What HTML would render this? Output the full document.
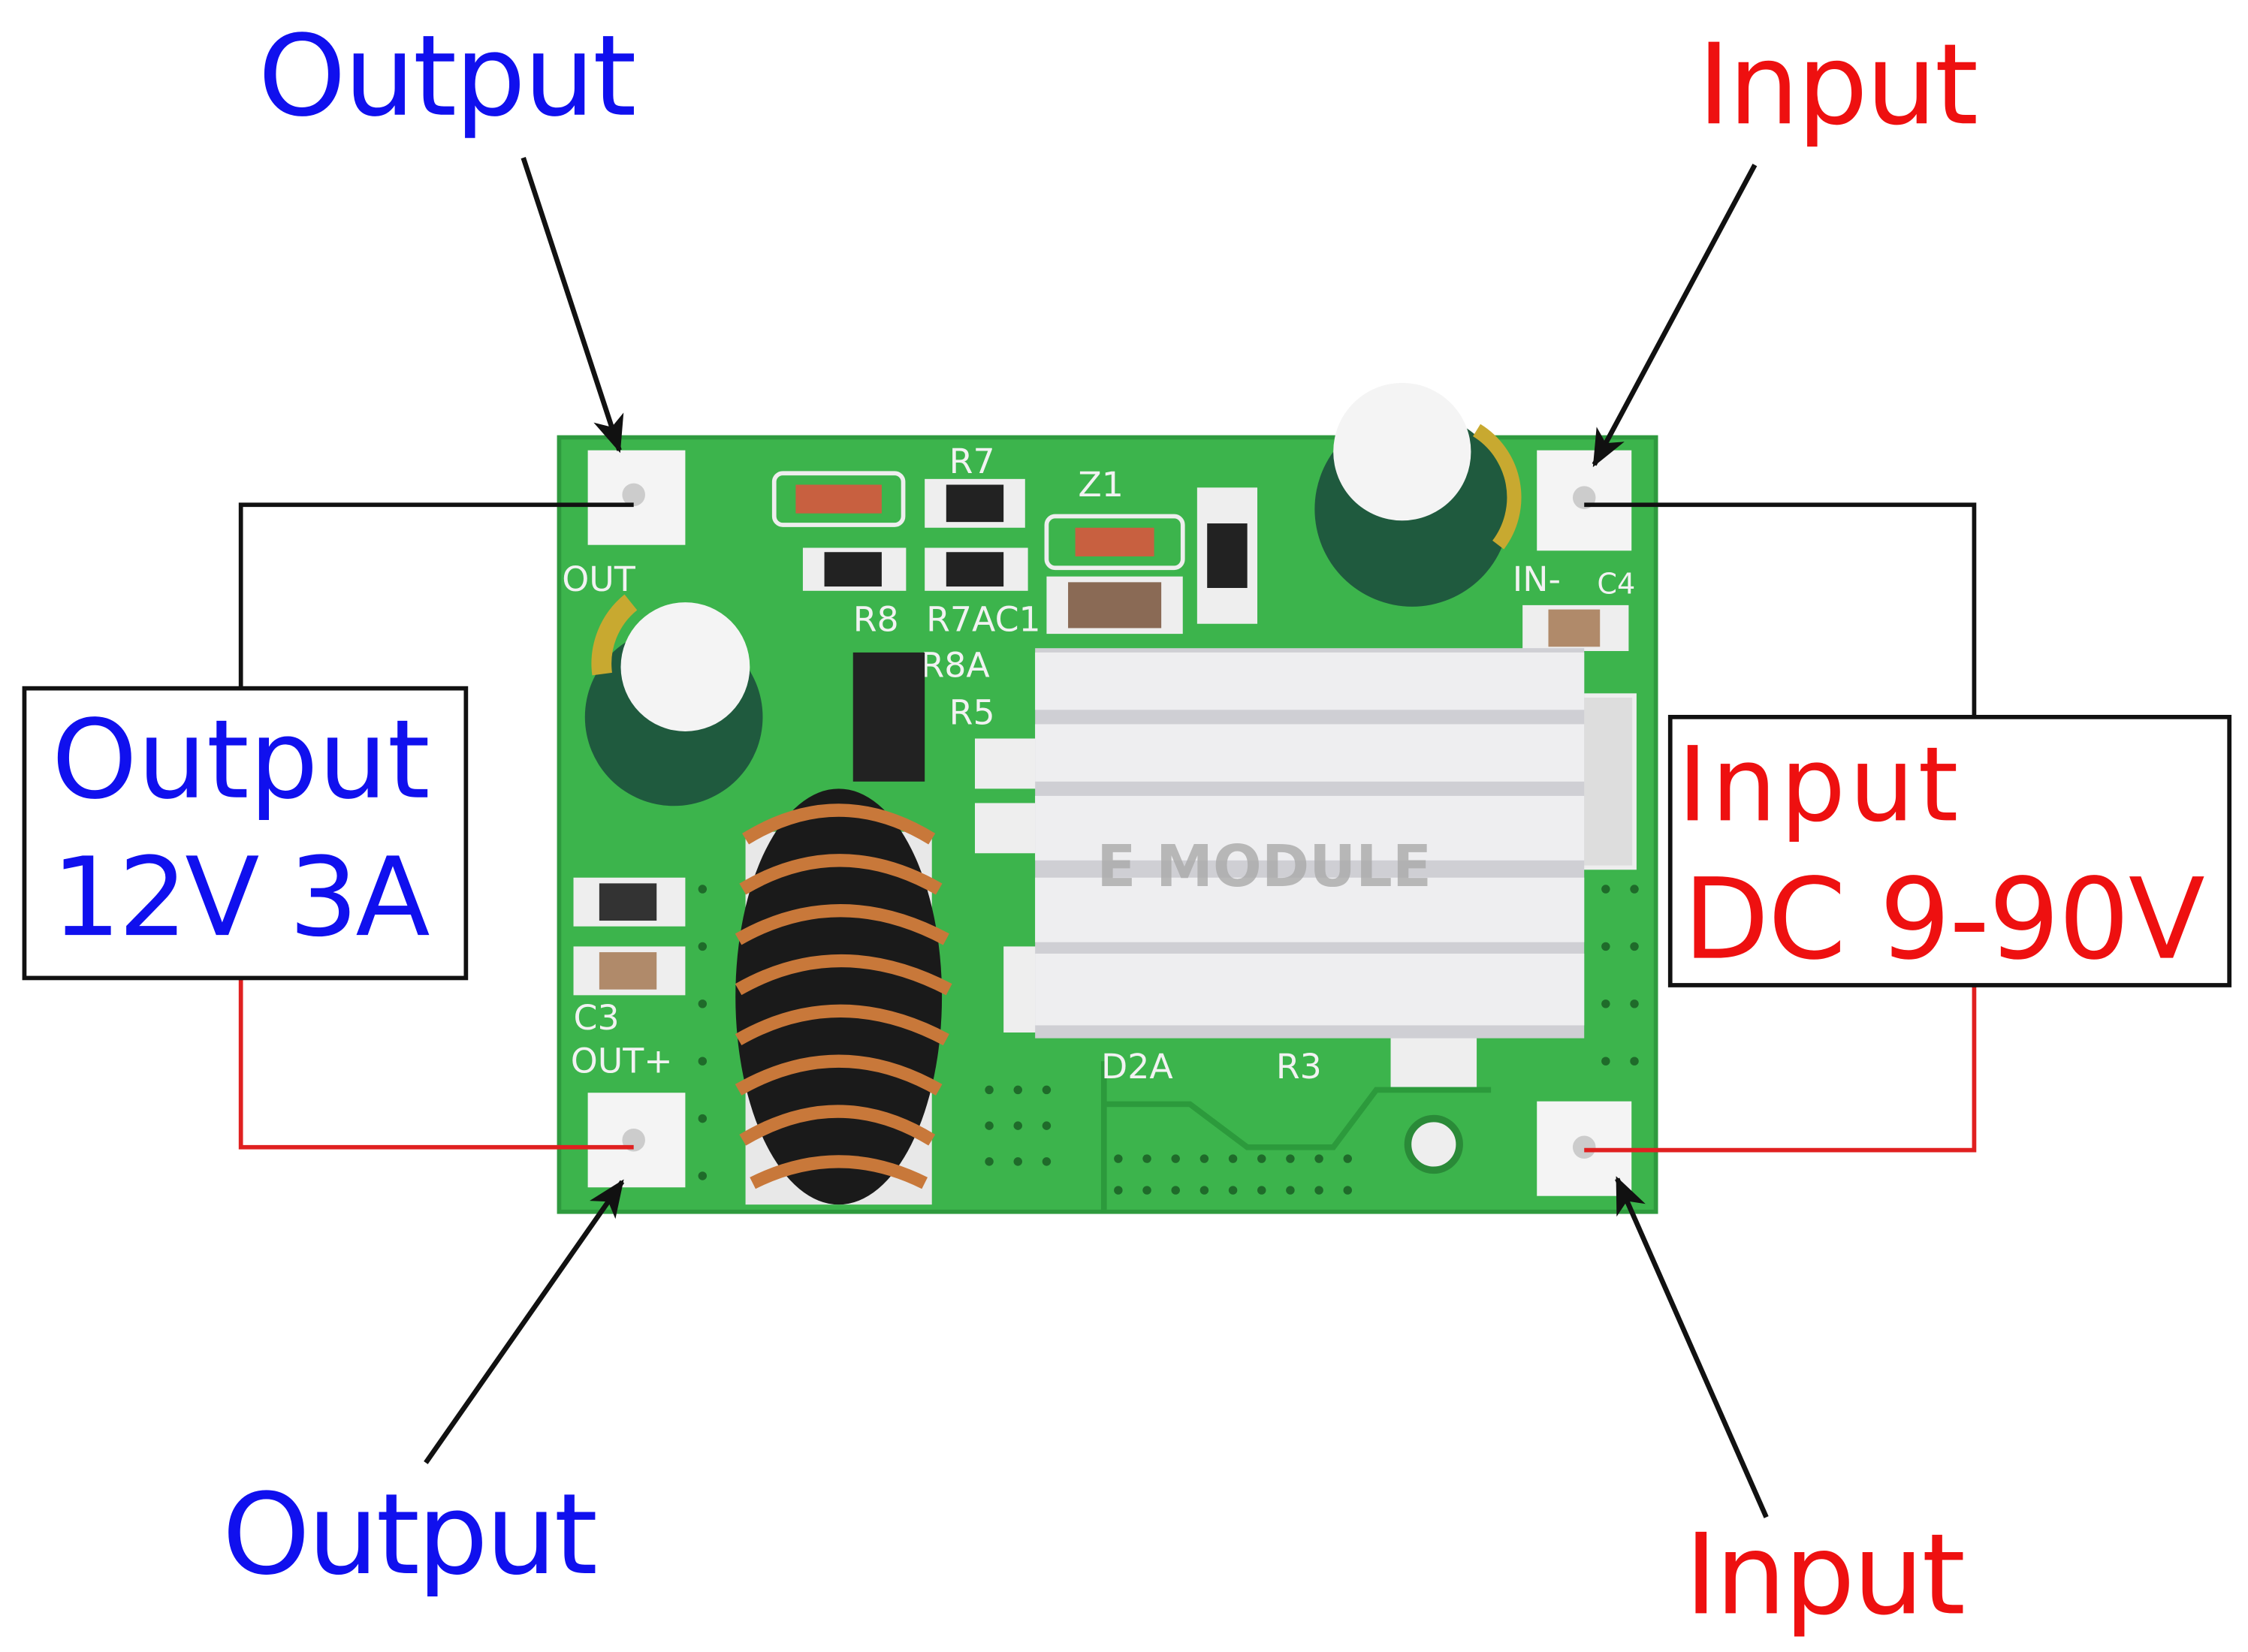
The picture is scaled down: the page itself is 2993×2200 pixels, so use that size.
<!DOCTYPE html>
<html><head><meta charset="utf-8"><style>
html,body{margin:0;padding:0;background:#fff;}
svg{display:block;}
text{font-family:"DejaVu Sans","Liberation Sans",sans-serif;}
</style></head><body>
<svg width="2993" height="2200" viewBox="0 0 1568 1152" preserveAspectRatio="none" xmlns="http://www.w3.org/2000/svg">
<defs>
<marker id="ah" markerWidth="26" markerHeight="22" refX="24" refY="11" orient="auto" markerUnits="userSpaceOnUse" viewBox="0 0 26 22">
<path d="M0,0 L26,11 L0,22 L7,11 Z" fill="#111"/></marker>
</defs>
<rect width="1568" height="1152" fill="#fff"/>
<rect x="390" y="305" width="765" height="540" fill="#3cb44c"/>
<rect x="390" y="305" width="765" height="540" fill="none" stroke="#2e9a3e" stroke-width="3"/>
<path d="M770 740 L770 845 M770 770 L830 770 L870 800 L930 800 L960 760 L1040 760" stroke="#2c9a3c" stroke-width="4" fill="none"/>
<g fill="#1f6b2a">
<circle cx="690" cy="760" r="3"/><circle cx="710" cy="760" r="3"/><circle cx="730" cy="760" r="3"/>
<circle cx="690" cy="785" r="3"/><circle cx="710" cy="785" r="3"/><circle cx="730" cy="785" r="3"/>
<circle cx="690" cy="810" r="3"/><circle cx="710" cy="810" r="3"/><circle cx="730" cy="810" r="3"/>
<circle cx="780" cy="808" r="3"/><circle cx="800" cy="808" r="3"/><circle cx="820" cy="808" r="3"/><circle cx="840" cy="808" r="3"/><circle cx="860" cy="808" r="3"/><circle cx="880" cy="808" r="3"/><circle cx="900" cy="808" r="3"/><circle cx="920" cy="808" r="3"/><circle cx="940" cy="808" r="3"/>
<circle cx="780" cy="830" r="3"/><circle cx="800" cy="830" r="3"/><circle cx="820" cy="830" r="3"/><circle cx="840" cy="830" r="3"/><circle cx="860" cy="830" r="3"/><circle cx="880" cy="830" r="3"/><circle cx="900" cy="830" r="3"/><circle cx="920" cy="830" r="3"/><circle cx="940" cy="830" r="3"/>
<circle cx="1120" cy="620" r="3"/><circle cx="1140" cy="620" r="3"/><circle cx="1120" cy="660" r="3"/><circle cx="1140" cy="660" r="3"/><circle cx="1120" cy="700" r="3"/><circle cx="1140" cy="700" r="3"/><circle cx="1120" cy="740" r="3"/><circle cx="1140" cy="740" r="3"/>
<circle cx="490" cy="620" r="3"/><circle cx="490" cy="660" r="3"/><circle cx="490" cy="700" r="3"/><circle cx="490" cy="740" r="3"/><circle cx="490" cy="780" r="3"/><circle cx="490" cy="820" r="3"/>
</g>
<circle cx="1000" cy="798" r="18" fill="#eee" stroke="#2a8a38" stroke-width="5"/>
<rect x="410" y="314" width="68" height="66" fill="#f4f4f4"/><circle cx="442" cy="345" r="8" fill="#ccc"/>
<rect x="1072" y="314" width="66" height="70" fill="#f4f4f4"/><circle cx="1105" cy="347" r="8" fill="#ccc"/>
<rect x="410" y="762" width="68" height="66" fill="#f4f4f4"/><circle cx="442" cy="795" r="8" fill="#ccc"/>
<rect x="1072" y="768" width="66" height="66" fill="#f4f4f4"/><circle cx="1105" cy="800" r="8" fill="#ccc"/>
<g fill="#f2f2f2" font-family="Liberation Serif,serif" font-size="24">
<text x="392" y="412">OUT</text><text x="398" y="748">OUT+</text><text x="400" y="718">C3</text>
<text x="595" y="440">R8</text><text x="646" y="440">R7AC1</text><text x="642" y="472">R8A</text><text x="662" y="505">R5</text>
<text x="662" y="330">R7</text><text x="752" y="346">Z1</text><text x="1055" y="412">IN-</text><text x="1114" y="414" font-size="20">C4</text>
<text x="768" y="752">D2A</text><text x="890" y="752">R3</text>
</g>
<g>
<rect x="540" y="330" width="90" height="36" rx="6" fill="none" stroke="#eee" stroke-width="3"/>
<rect x="555" y="338" width="60" height="20" fill="#c86040"/>
<rect x="645" y="334" width="70" height="34" fill="#eee"/><rect x="660" y="338" width="40" height="26" fill="#222"/>
<rect x="560" y="382" width="72" height="30" fill="#eee"/><rect x="575" y="385" width="40" height="24" fill="#222"/>
<rect x="645" y="382" width="72" height="30" fill="#eee"/><rect x="660" y="385" width="40" height="24" fill="#222"/>
<rect x="730" y="360" width="95" height="36" rx="6" fill="none" stroke="#eee" stroke-width="3"/>
<rect x="750" y="368" width="55" height="20" fill="#c86040"/>
<rect x="730" y="402" width="95" height="40" fill="#eee"/><rect x="745" y="406" width="65" height="32" fill="#8a6a55"/>
<rect x="835" y="340" width="42" height="95" fill="#eee"/><rect x="842" y="365" width="28" height="45" fill="#222"/>
<rect x="595" y="455" width="50" height="90" fill="#222"/>
<rect x="1062" y="422" width="74" height="32" fill="#eee"/><rect x="1080" y="425" width="36" height="26" fill="#b08a6a"/>
<rect x="400" y="612" width="78" height="34" fill="#eee"/><rect x="418" y="616" width="40" height="26" fill="#333"/>
<rect x="400" y="660" width="78" height="34" fill="#eee"/><rect x="418" y="664" width="40" height="26" fill="#b08a6a"/>
<rect x="970" y="722" width="60" height="36" fill="#eee"/>
<rect x="680" y="515" width="45" height="35" fill="#eee"/><rect x="680" y="560" width="45" height="35" fill="#eee"/>
<rect x="700" y="660" width="30" height="60" fill="#eee"/>
<rect x="1095" y="485" width="45" height="120" fill="#ddd" stroke="#eee" stroke-width="3"/>
</g>
<rect x="722" y="452" width="383" height="272" fill="#cfcfd4"/>
<g fill="#eeeef0">
<rect x="722" y="455" width="383" height="40"/><rect x="722" y="505" width="383" height="40"/>
<rect x="722" y="555" width="383" height="45"/><rect x="722" y="612" width="383" height="45"/>
<rect x="722" y="665" width="383" height="50"/>
</g>
<text x="765" y="618" font-size="40" font-weight="bold" fill="#aaa" opacity="0.8">E MODULE</text>
<circle cx="470" cy="500" r="62" fill="#1f5a3e"/>
<circle cx="478" cy="465" r="45" fill="#f4f4f4"/>
<path d="M420 470 A55 55 0 0 1 440 420" stroke="#c8a930" stroke-width="14" fill="none"/>
<circle cx="985" cy="355" r="68" fill="#1f5a3e"/>
<circle cx="978" cy="315" r="48" fill="#f4f4f4"/>
<path d="M1030 300 A55 55 0 0 1 1045 380" stroke="#c8a930" stroke-width="10" fill="none"/>
<rect x="520" y="580" width="130" height="260" fill="#e8e8e8"/>
<ellipse cx="585" cy="695" rx="72" ry="145" fill="#1a1a1a"/>
<g stroke="#c8783a" stroke-width="9" fill="none">
<path d="M520 585 Q585 545 650 585"/><path d="M518 620 Q585 580 655 620"/><path d="M515 655 Q585 615 660 655"/>
<path d="M515 690 Q585 650 662 690"/><path d="M515 725 Q585 685 660 725"/><path d="M515 760 Q585 720 655 760"/>
<path d="M518 795 Q585 755 650 795"/><path d="M525 825 Q585 795 645 825"/>
</g>
<polyline points="442,352 168,352 168,480" fill="none" stroke="#111" stroke-width="3"/>
<polyline points="168,682 168,800 442,800" fill="none" stroke="#e02020" stroke-width="3"/>
<polyline points="1105,352 1377,352 1377,500" fill="none" stroke="#111" stroke-width="3"/>
<polyline points="1377,687 1377,802 1105,802" fill="none" stroke="#e02020" stroke-width="3"/>
<g stroke="#111" stroke-width="3.5" marker-end="url(#ah)">
<line x1="365" y1="110" x2="432" y2="314"/>
<line x1="1224" y1="115" x2="1112" y2="324"/>
<line x1="297" y1="1020" x2="434" y2="824"/>
<line x1="1232" y1="1058" x2="1128" y2="822"/>
</g>
<rect x="17" y="480" width="308" height="202" fill="#fff" stroke="#111" stroke-width="3"/>
<text x="36" y="556" font-size="76" fill="#1010ee" textLength="264">Output</text>
<text x="36" y="652" font-size="76" fill="#1010ee" textLength="264">12V 3A</text>
<rect x="1165" y="500" width="390" height="187" fill="#fff" stroke="#111" stroke-width="3"/>
<text x="1170" y="572" font-size="72" fill="#ee1010" textLength="196">Input</text>
<text x="1174" y="668" font-size="78" fill="#ee1010" textLength="364">DC 9-90V</text>
<text x="180" y="80" font-size="78" fill="#1010ee" textLength="264">Output</text>
<text x="1184" y="86" font-size="78" fill="#ee1010" textLength="196">Input</text>
<text x="155" y="1097" font-size="78" fill="#1010ee" textLength="262">Output</text>
<text x="1175" y="1125" font-size="78" fill="#ee1010" textLength="196">Input</text>
</svg>
</body></html>
